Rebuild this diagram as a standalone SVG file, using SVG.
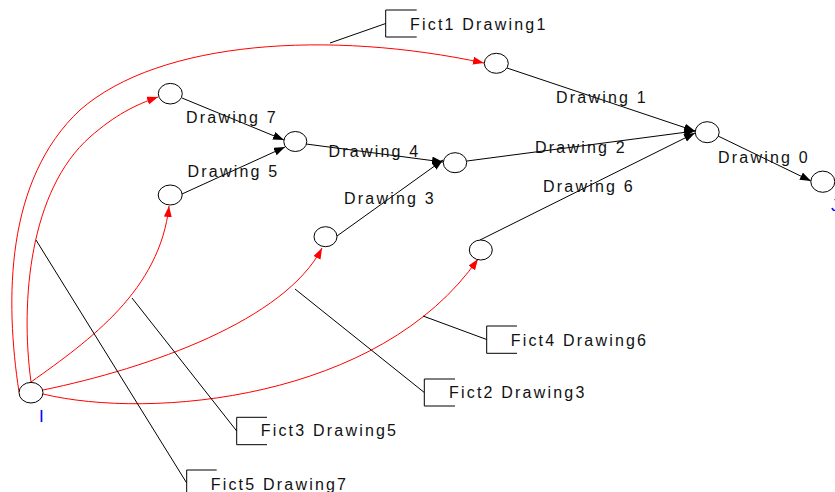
<svg xmlns="http://www.w3.org/2000/svg" width="835" height="492" viewBox="0 0 835 492">
<style>
.bg{fill:#ffffff}
.node{fill:#ffffff;stroke:#000000;stroke-width:1}
.edge{fill:none;stroke:#000000;stroke-width:1}
.red{fill:none;stroke:#ff0000;stroke-width:1}
.call{fill:none;stroke:#000000;stroke-width:1}
.lbl{font-family:"Liberation Sans",Arial,sans-serif;font-size:16px;letter-spacing:2.2px;fill:#111111}
.nl{font-family:"Liberation Sans",Arial,sans-serif;font-size:17px;fill:#0000ff}
</style>
<defs>
<marker id="ab" markerUnits="userSpaceOnUse" markerWidth="12" markerHeight="9" refX="11" refY="4" orient="auto" viewBox="0 0 12 9">
<path d="M0,0 L11,4 L0,8 z" fill="#000000"/>
</marker>
<marker id="ar" markerUnits="userSpaceOnUse" markerWidth="12" markerHeight="9" refX="11" refY="4" orient="auto" viewBox="0 0 12 9">
<path d="M0,0 L11,4 L0,8 z" fill="#ff0000"/>
</marker>
</defs>
<rect class="bg" x="0" y="0" width="835" height="492"/>
<g id="connectors">
<path class="red" d="M19,392 C5,300 5,180 80,110 C160,40 330,30 484,63" marker-end="url(#ar)"/>
<path class="red" d="M31,382 C20,300 30,190 90,137 C115,115 135,105 158,97" marker-end="url(#ar)"/>
<path class="red" d="M31,382 C90,340 160,290 169,206" marker-end="url(#ar)"/>
<path class="red" d="M43,390 C150,368 285,320 322,248" marker-end="url(#ar)"/>
<path class="red" d="M43,394 C150,420 380,400 478,259" marker-end="url(#ar)"/>
<line class="edge" x1="507" y1="68" x2="695" y2="131" marker-end="url(#ab)"/>
<line class="edge" x1="182" y1="98" x2="284" y2="140" marker-end="url(#ab)"/>
<line class="edge" x1="182" y1="194" x2="285" y2="147" marker-end="url(#ab)"/>
<line class="edge" x1="306" y1="144" x2="443" y2="162" marker-end="url(#ab)"/>
<line class="edge" x1="337" y1="236" x2="443" y2="160" marker-end="url(#ab)"/>
<line class="edge" x1="467" y1="161" x2="695" y2="131" marker-end="url(#ab)"/>
<line class="edge" x1="480" y1="240" x2="695" y2="133" marker-end="url(#ab)"/>
<line class="edge" x1="718" y1="136" x2="811" y2="181" marker-end="url(#ab)"/>
</g>
<g id="edge-labels">
<text class="lbl" x="556" y="103">Drawing 1</text>
<text class="lbl" x="186" y="122.7">Drawing 7</text>
<text class="lbl" x="187.5" y="177.3">Drawing 5</text>
<text class="lbl" x="328.5" y="157.3">Drawing 4</text>
<text class="lbl" x="344" y="204">Drawing 3</text>
<text class="lbl" x="535" y="152.7">Drawing 2</text>
<text class="lbl" x="543" y="191.7">Drawing 6</text>
<text class="lbl" x="718" y="163">Drawing 0</text>
</g>
<g id="callout-fict1">
<path class="call" d="M330,43 L385.7,23.5 M416.7,10 L385.7,10 L385.7,37 L416.7,37"/>
<text class="lbl" x="410" y="29.5">Fict1 Drawing1</text>
</g>
<g id="callout-fict4">
<path class="call" d="M423,316 L486.7,339.5 M517,326 L486.7,326 L486.7,353.3 L517,353.3"/>
<text class="lbl" x="510.7" y="345.7">Fict4 Drawing6</text>
</g>
<g id="callout-fict2">
<path class="call" d="M295,289 L424.3,392.5 M455,379 L424.3,379 L424.3,406 L455,406"/>
<text class="lbl" x="449" y="397.5">Fict2 Drawing3</text>
</g>
<g id="callout-fict3">
<path class="call" d="M132,298 L236.7,431 M267,417.3 L236.7,417.3 L236.7,444.7 L267,444.7"/>
<text class="lbl" x="260.7" y="436">Fict3 Drawing5</text>
</g>
<g id="callout-fict5">
<path class="call" d="M36,240 L186.7,483 M216.7,470 L186.7,470 L186.7,497 L216.7,497"/>
<text class="lbl" x="210.7" y="490">Fict5 Drawing7</text>
</g>
<g id="node-I">
<ellipse class="node" cx="31" cy="392.7" rx="12" ry="10.3"/>
<text class="nl" x="39" y="421.5">I</text>
</g>
<g id="node-1"><ellipse class="node" cx="496.3" cy="63.3" rx="12" ry="10"/></g>
<g id="node-7"><ellipse class="node" cx="170.3" cy="93.7" rx="12" ry="10.3"/></g>
<g id="node-5"><ellipse class="node" cx="170.2" cy="195" rx="12" ry="10"/></g>
<g id="node-4"><ellipse class="node" cx="295.3" cy="141.5" rx="11.5" ry="10"/></g>
<g id="node-3"><ellipse class="node" cx="325.5" cy="236.7" rx="11.5" ry="10"/></g>
<g id="node-2"><ellipse class="node" cx="455" cy="162.7" rx="11.7" ry="10"/></g>
<g id="node-6"><ellipse class="node" cx="480.8" cy="250" rx="11.5" ry="10"/></g>
<g id="node-0"><ellipse class="node" cx="707.2" cy="132.2" rx="12" ry="10.5"/></g>
<g id="node-J">
<ellipse class="node" cx="822.8" cy="181.7" rx="12" ry="10.6"/>
<text class="nl" x="831" y="211">J</text>
</g>
</svg>
